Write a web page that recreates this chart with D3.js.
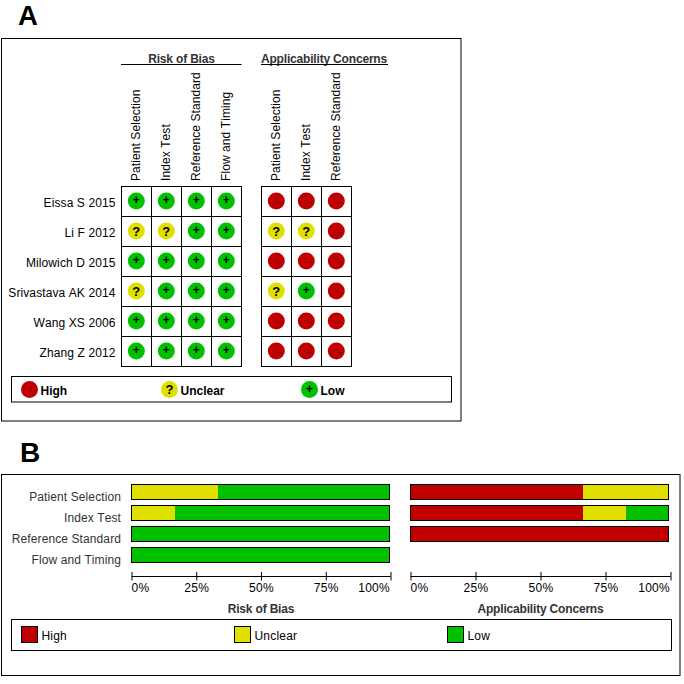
<!DOCTYPE html>
<html><head><meta charset="utf-8">
<script src="https://cdn.jsdelivr.net/npm/d3@7"></script>
<style>
html,body{margin:0;padding:0;background:#fff}
svg{display:block}
text{font-family:"Liberation Sans",Arial,sans-serif;font-kerning:none}
</style></head><body><svg id="c" width="684" height="684"></svg>
<script>
const studies=["Eissa S 2015","Li F 2012","Milowich D 2015","Srivastava AK 2014","Wang XS 2006","Zhang Z 2012"];
const biasDomains=["Patient Selection","Index Test","Reference Standard","Flow and Timing"];
const applicDomains=["Patient Selection","Index Test","Reference Standard"];
const levels=["High","Unclear","Low"];
const levelColors=["#c00000","#e0e000","#00c000"];
const biasJudgements=[
 ["Low","Low","Low","Low"],
 ["Unclear","Unclear","Low","Low"],
 ["Low","Low","Low","Low"],
 ["Unclear","Low","Low","Low"],
 ["Low","Low","Low","Low"],
 ["Low","Low","Low","Low"]];
const applicJudgements=[
 ["High","High","High"],
 ["Unclear","Unclear","High"],
 ["High","High","High"],
 ["Unclear","Low","High"],
 ["High","High","High"],
 ["High","High","High"]];
const biasHigh=[0,0,0,0];
const biasUnclear=[33.3,16.7,0,0];
const biasLow=[66.7,83.3,100,100];
const applicHigh=[66.7,66.7,100];
const applicUnclear=[33.3,16.7,0];
const applicLow=[0,16.7,0];
const axisTicks=[0,25,50,75,100];

const svg=d3.select("#c");
const colorOf=d3.scaleOrdinal(levels,levelColors);
const frame=(x,y,w,h,sw=1)=>svg.append("rect").attr("x",x).attr("y",y).attr("width",w).attr("height",h).attr("fill","none").attr("stroke","#000").attr("stroke-width",sw);
const label=(s,x,y,o={})=>svg.append("text").text(s).attr("x",x).attr("y",y)
  .attr("font-size",o.size||12).attr("font-weight",o.weight||"normal").attr("text-anchor",o.anchor||"start")
  .attr("fill",o.fill||"#000").attr("letter-spacing",o.ls==null?0:o.ls);

/* Panel letters */
label("A",18,25,{size:27.5,weight:"bold"});
label("B",20,461.5,{size:28,weight:"bold"});

/* Panel A */
frame(1.5,38.5,459.5,382.5);

const rowY=d3.scaleBand().domain(studies).range([186.5,366.5]);
function symbol(g,x,y,level){
  const c=colorOf(level);
  g.append("circle").attr("cx",x).attr("cy",y).attr("r",8.5).attr("fill",c);
  if(level==="Unclear"){
    g.append("text").text("?").attr("x",x).attr("y",y+4.5).attr("text-anchor","middle").attr("font-size",13).attr("font-weight","bold");
  }else if(level==="Low"){
    g.append("text").text("+").attr("x",x).attr("y",y+3).attr("text-anchor","middle").attr("font-size",12).attr("font-weight","bold");
  }else{
    g.append("text").text("–").attr("x",x+3).attr("y",y+3).attr("text-anchor","middle").attr("font-size",8).attr("fill","#300");
  }
}
function matrix(domains,judg,x0,titleText,titleCx,lineEnd){
  const x=d3.scaleBand().domain(d3.range(domains.length)).range([x0,x0+30*domains.length]);
  const g=svg.append("g");
  studies.forEach((s,i)=>domains.forEach((d,j)=>{
    g.append("rect").attr("x",x(j)).attr("y",rowY(s)).attr("width",x.bandwidth()).attr("height",rowY.bandwidth())
     .attr("fill","#fff").attr("stroke","#000").attr("stroke-width",1);
    symbol(g,x(j)+14.8,rowY(s)+14.5,judg[i][j]);
  }));
  domains.forEach((d,j)=>{
    svg.append("text").text(d).attr("transform",`translate(${x(j)+18.5},181) rotate(-90)`)
      .attr("font-size",12).attr("letter-spacing",0.08);
  });
  label(titleText,titleCx,63,{size:12,weight:"bold",anchor:"middle",fill:"#333",ls:-0.18});
  svg.append("line").attr("x1",x0-0.5).attr("x2",lineEnd).attr("y1",64.5).attr("y2",64.5).attr("stroke","#000");
}
matrix(biasDomains,biasJudgements,121.5,"Risk of Bias",181.5,241.5);
matrix(applicDomains,applicJudgements,261.5,"Applicability Concerns",324,388);
studies.forEach(s=>label(s,115.5,rowY(s)+20,{anchor:"end",ls:0.1,size:12}));

frame(11.5,376.5,440,25.5);
const legendA=d3.scaleOrdinal(levels,[29.5,169.5,309.5]);
levels.forEach(l=>{
  symbol(svg,legendA(l),389.5,l);
  label(l,legendA(l)+11,394.5,{weight:"bold",size:12});
});

/* Panel B */
frame(1.5,474.5,678.5,201);
const barStep=21, barH=15;
biasDomains.forEach((d,i)=>label(d,121,501+barStep*i,{anchor:"end",fill:"#333",ls:0.1}));
function stacked(x0,axisEnd,highs,unclears,lows,title){
  const x=d3.scaleLinear().domain([0,100]).range([x0,x0+258]);
  highs.forEach((_,i)=>{
    const y=484.5+barStep*i;
    let acc=0;
    [highs[i],unclears[i],lows[i]].forEach((v,k)=>{
      if(v>0){
        const a=Math.ceil(x(acc)), b=Math.ceil(x(acc+v));
        svg.append("rect").attr("x",a).attr("y",y).attr("width",b-a).attr("height",barH).attr("fill",levelColors[k]);
      }
      acc+=v;
    });
    svg.append("rect").attr("x",x(0)).attr("y",y).attr("width",x(100)-x(0)).attr("height",barH).attr("fill","none").attr("stroke","#000");
  });
  const ax=d3.scaleLinear().domain([0,100]).range([x0,axisEnd]);
  const g=svg.append("g").attr("transform","translate(0,576.5)")
    .call(d3.axisBottom(ax).tickValues(axisTicks).tickSize(4).tickFormat(d=>d+"%"));
  g.selectAll(".domain").attr("d",`M${x0},0H${axisEnd}`).attr("stroke","#000");
  g.selectAll(".tick line").attr("y1",-4.5).attr("y2",4).attr("stroke","#000");
  g.selectAll(".tick text").attr("y",15.5).attr("dy",0).attr("font-size",12).attr("font-family",'"Liberation Sans",Arial,sans-serif')
    .attr("fill","#000").attr("letter-spacing",0.28)
    .attr("text-anchor",d=>d===0?"start":d===100?"end":"middle")
    .attr("dx",d=>d===100?-1:d===0?-0.5:0);
  label(title,(x0+axisEnd)/2,613,{weight:"bold",anchor:"middle",fill:"#333",ls:-0.18});
}
stacked(131.5,390.5,biasHigh,biasUnclear,biasLow,"Risk of Bias");
stacked(410.5,670.5,applicHigh,applicUnclear,applicLow,"Applicability Concerns");

frame(11.5,619.5,660,31);
const legendB=d3.scaleOrdinal(levels,[21.5,234.5,447.5]);
levels.forEach((l,i)=>{
  svg.append("rect").attr("x",legendB(l)).attr("y",626.5).attr("width",16).attr("height",16).attr("fill",levelColors[i]).attr("stroke","#000");
  label(l,legendB(l)+20,640,{ls:0.2});
});
</script></body></html>
